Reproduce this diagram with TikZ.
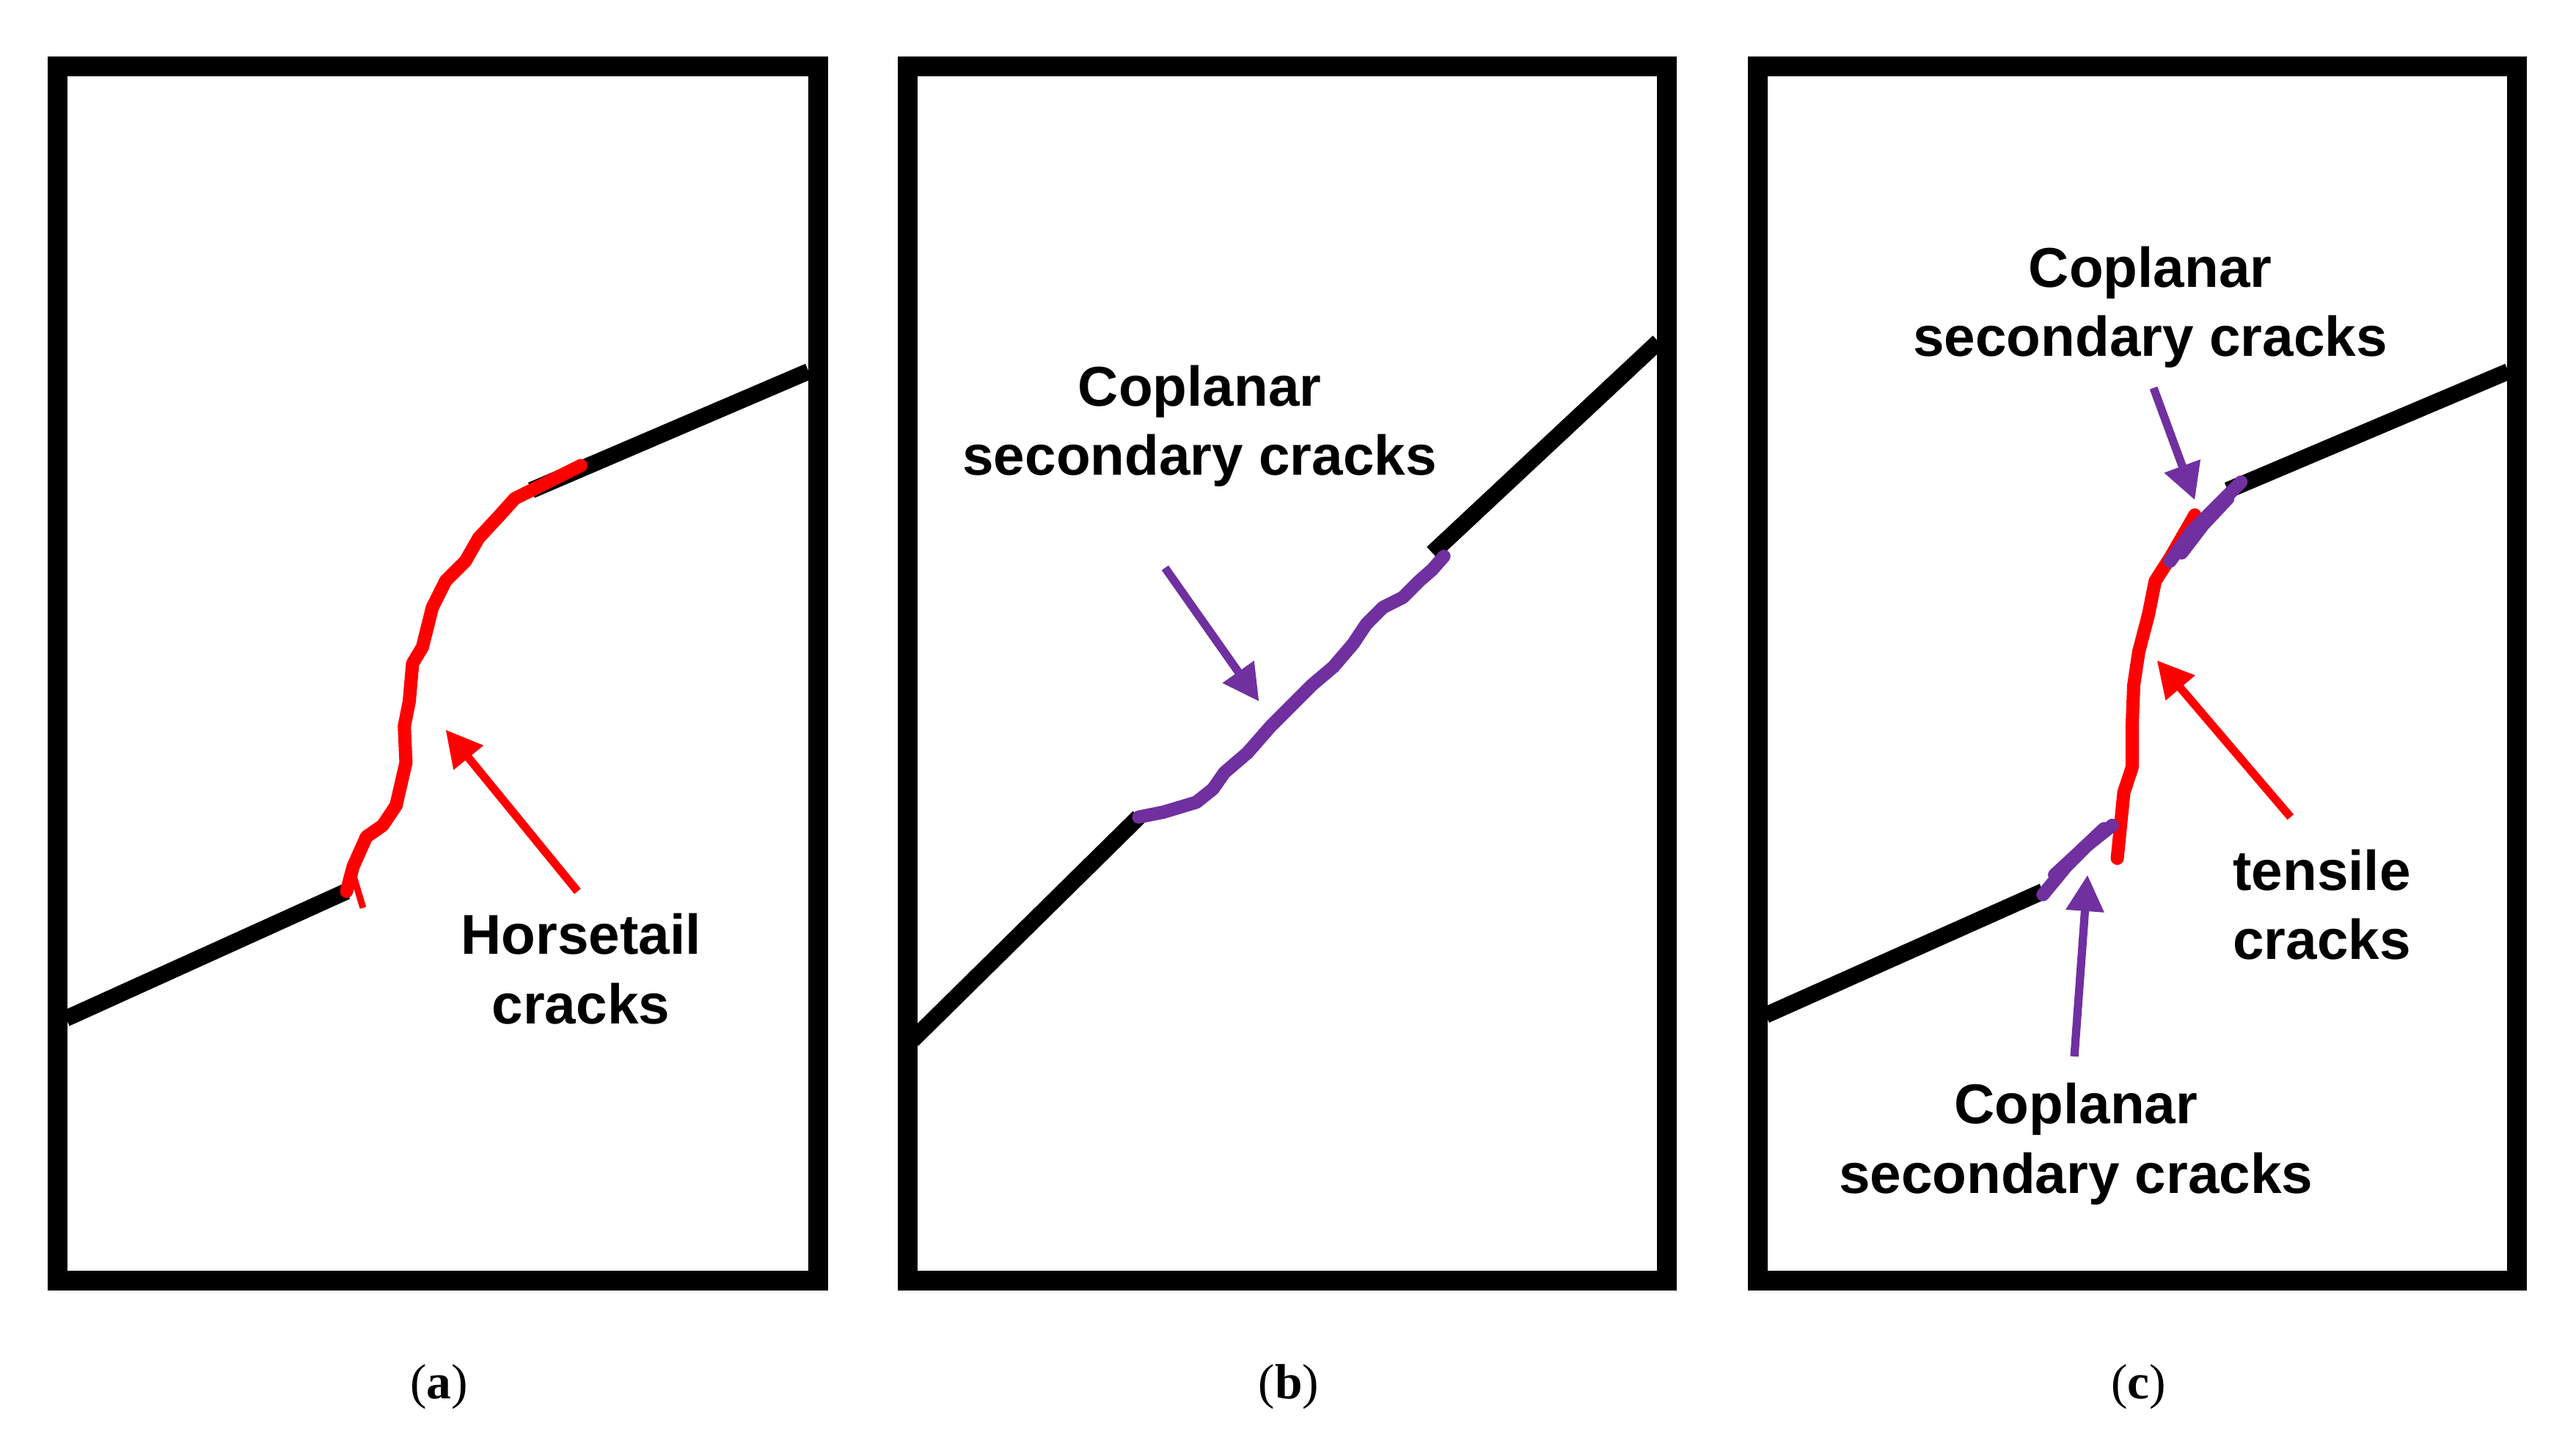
\documentclass[tikz,border=0pt]{standalone}
\usepackage{fontspec}
\newfontfamily\lab{Liberation Sans}
\setmainfont{Liberation Serif}
\usetikzlibrary{arrows.meta}
\definecolor{pur}{RGB}{112,48,160}
\begin{document}
\begin{tikzpicture}[x=1pt,y=-1pt,
  box/.style={line width=12pt},
  crack/.style={line width=10pt},
  wav/.style={line width=8pt,line join=round,line cap=round},
  arr/.style={line width=5pt,-{Triangle[length=22pt,width=22pt]}},
  lbl/.style={font=\lab\bfseries\fontsize{34}{42}\selectfont,align=center},
  captxt/.style={font=\fontsize{30}{34}\selectfont}]
\useasboundingbox (0,0) rectangle (1561,871);
% panel a
\draw[box] (35,40) rectangle (496,776);
\coordinate (a1) at (40,617); \coordinate (a2) at (210,540);
\coordinate (a3) at (322,297); \coordinate (a4) at (490,225);
\draw[crack] (a1)--(a2); \draw[crack] (a3)--(a4);
\draw[wav,red] (210,540) -- (214,525) -- (222,507) -- (232,500) -- (240,488) -- (246,462) -- (245,440) -- (248,425) -- (250,402) -- (256,392) -- (262,368) -- (270,352) -- (282,340) -- (290,326) -- (303,312) -- (312,302) -- (322,297) -- (352,282);
\draw[red,line width=4pt] (214,530) -- (220,550);
\coordinate (at) at (350,540); \coordinate (ah) at (270,442);
\draw[arr,red] (at)--(ah);
\node[lbl] (la) at (352,587) {Horsetail\\cracks};
\node[captxt] (ca) at (266,840) {(\textbf{a})};
% panel b
\draw[box] (550,40) rectangle (1010,776);
\coordinate (b1) at (553,630); \coordinate (b2) at (690,495);
\coordinate (b3) at (868,335); \coordinate (b4) at (1005,207);
\draw[crack] (b1)--(b2); \draw[crack] (b3)--(b4);
\draw[wav,pur] (b2) -- (705,492) -- (725,486) -- (735,478) -- (742,468) -- (756,456) -- (770,440) -- (782,428) -- (795,415) -- (808,404) -- (820,390) -- (828,378) -- (838,368) -- (850,362) -- (860,352) -- (868,345) -- (875,337);
\coordinate (bt) at (706,344); \coordinate (bh) at (763,425);
\draw[arr,pur] (bt)--(bh);
\node[lbl] (lb) at (727,258) {Coplanar\\secondary cracks};
\node[captxt] (cb) at (781,840) {(\textbf{b})};
% panel c
\draw[box] (1065,40) rectangle (1525,776);
\coordinate (c1) at (1070,615); \coordinate (c2) at (1238,540);
\coordinate (c3) at (1350,297); \coordinate (c4) at (1520,225);
\draw[crack] (c1)--(c2); \draw[crack] (c3)--(c4);
\draw[wav,red] (1283,520) -- (1287,480) -- (1292,465) -- (1292,440) -- (1293,415) -- (1296,395) -- (1302,372) -- (1306,352) -- (1315,338) -- (1330,312);
\draw[wav,pur] (1238,542) -- (1252,525) -- (1265,512) -- (1280,500);
\draw[wav,pur] (1245,530) -- (1258,518) -- (1275,502);
\draw[wav,pur] (1315,340) -- (1328,322) -- (1342,308) -- (1358,292);
\draw[wav,pur] (1322,335) -- (1335,318) -- (1350,302);
\coordinate (ct1) at (1305,235); \coordinate (ch1) at (1330,303);
\draw[arr,pur] (ct1)--(ch1);
\coordinate (ct2) at (1388,495); \coordinate (ch2) at (1307,400);
\draw[arr,red] (ct2)--(ch2);
\coordinate (ct3) at (1257,640); \coordinate (ch3) at (1265,530);
\draw[arr,pur] (ct3)--(ch3);
\node[lbl] (lc1) at (1303,186) {Coplanar\\secondary cracks};
\node[lbl] (lc2) at (1407,548) {tensile\\cracks};
\node[lbl] (lc3) at (1258,693) {Coplanar\\secondary cracks};
\node[captxt] (cc) at (1296,840) {(\textbf{c})};
\end{tikzpicture}
\end{document}
